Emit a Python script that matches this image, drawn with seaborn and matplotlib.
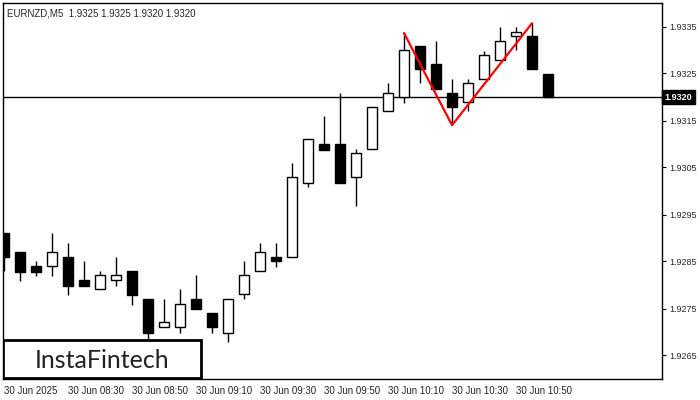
import numpy as np
import pandas as pd
import matplotlib
matplotlib.use("Agg")
import matplotlib.pyplot as plt
import seaborn as sns
from matplotlib.patches import Rectangle

# OHLC, 5-minute candles from 08:10 to 11:00
opens = [1.92911, 1.92870, 1.92840, 1.92840, 1.92860, 1.92811, 1.92791, 1.92811, 1.92830, 1.92770,
         1.92711, 1.92711, 1.92770, 1.92740, 1.92698, 1.92781, 1.92830, 1.92860, 1.92860, 1.93017,
         1.93100, 1.93100, 1.93030, 1.93089, 1.93170, 1.93200, 1.93309, 1.93270, 1.93209, 1.93189,
         1.93238, 1.93279, 1.93330, 1.93330, 1.93249]
highs = [1.92911, 1.92870, 1.92851, 1.92911, 1.92889, 1.92851, 1.92830, 1.92860, 1.92830, 1.92770,
         1.92770, 1.92791, 1.92821, 1.92740, 1.92770, 1.92851, 1.92889, 1.92889, 1.93060, 1.93111,
         1.93160, 1.93209, 1.93089, 1.93179, 1.93230, 1.93336, 1.93309, 1.93319, 1.93238, 1.93238,
         1.93298, 1.93349, 1.93349, 1.93357, 1.93249]
lows = [1.92830, 1.92809, 1.92819, 1.92819, 1.92779, 1.92798, 1.92791, 1.92798, 1.92757, 1.92683,
        1.92711, 1.92698, 1.92749, 1.92698, 1.92679, 1.92770, 1.92830, 1.92838, 1.92860, 1.93009,
        1.93087, 1.93017, 1.92968, 1.93089, 1.93170, 1.93187, 1.93230, 1.93217, 1.93143, 1.93170,
        1.93238, 1.93279, 1.93300, 1.93260, 1.93200]
closes = [1.92860, 1.92828, 1.92828, 1.92870, 1.92798, 1.92798, 1.92821, 1.92821, 1.92779, 1.92698,
          1.92721, 1.92760, 1.92749, 1.92711, 1.92770, 1.92821, 1.92870, 1.92851, 1.93030, 1.93111,
          1.93087, 1.93017, 1.93081, 1.93179, 1.93209, 1.93300, 1.93260, 1.93217, 1.93179, 1.93230,
          1.93289, 1.93319, 1.93338, 1.93260, 1.93200]

# double top pattern outline: (candle index, price)
pattern_idx = [25, 28, 33]
pattern_px = [1.93336, 1.93140, 1.93357]

tick_idx = [0, 4, 8, 12, 16, 20, 24, 28, 32]
tick_labels = ["30 Jun 2025", "30 Jun 08:30", "30 Jun 08:50", "30 Jun 09:10", "30 Jun 09:30",
               "30 Jun 09:50", "30 Jun 10:10", "30 Jun 10:30", "30 Jun 10:50"]
y_ticks = [1.9265, 1.9275, 1.9285, 1.9295, 1.9305, 1.9315, 1.9325, 1.9335]
last_price = 1.9320

df = pd.DataFrame({"o": opens, "h": highs, "l": lows, "c": closes})
df["i"] = np.arange(len(df))
df["up"] = df["c"] >= df["o"]

sns.set_style("white")
plt.rcParams["font.family"] = ["Liberation Sans", "DejaVu Sans"]

fig = plt.figure(figsize=(7, 4), dpi=100)
ax = fig.add_axes([3 / 700, 21 / 400, 659 / 700, 376 / 400])

ax.vlines(df["i"], df["l"], df["h"], color="black", linewidth=1, zorder=2)
bottoms = np.minimum(df["o"], df["c"])
heights = np.maximum(np.abs(df["c"] - df["o"]), 0.000005)
colors = ["white" if u else "black" for u in df["up"]]
ax.bar(df["i"], heights, bottom=bottoms, width=0.6, color=colors, edgecolor="black",
       linewidth=1, zorder=3)

sns.lineplot(x=pattern_idx, y=pattern_px, ax=ax, color="#ff0000", linewidth=1.6, zorder=4)

ax.axhline(last_price, color="black", linewidth=1, zorder=1)

ax.set_xlim(-0.06, 41.12)
ax.set_ylim(1.9260, 1.9340)
ax.yaxis.tick_right()
ax.set_yticks(y_ticks)
ax.set_yticklabels([f"{v:.4f}" for v in y_ticks], fontsize=6.5)
ax.set_xticks(tick_idx)
ax.set_xticklabels(tick_labels, fontsize=7, ha="left")
ax.tick_params(axis="y", length=3, width=0.8, color="black", pad=2)
ax.tick_params(axis="x", length=3, width=0.8, color="black", pad=2)
for s in ax.spines.values():
    s.set_color("black")
    s.set_linewidth(1)

ax.text(1.004, last_price, "1.9320", transform=ax.get_yaxis_transform(), fontsize=6.5,
        color="white", fontweight="bold", va="center", ha="left",
        bbox=dict(boxstyle="square,pad=0.3", fc="black", ec="black"))

ax.text(0.006, 0.985, "EURNZD,M5  1.9325 1.9325 1.9320 1.9320", transform=ax.transAxes,
        fontsize=7, va="top", ha="left")

ax.add_patch(Rectangle((0, 0.003), 198 / 659, 38 / 376, transform=ax.transAxes,
                       facecolor="white", edgecolor="black", linewidth=2, zorder=5))
ax.text(99 / 659, 19 / 376, "InstaFintech", transform=ax.transAxes, fontsize=18,
        family=["Lato", "DejaVu Sans"], color="#222222", ha="center", va="center", zorder=6)

fig.savefig("out.png", dpi=100)
